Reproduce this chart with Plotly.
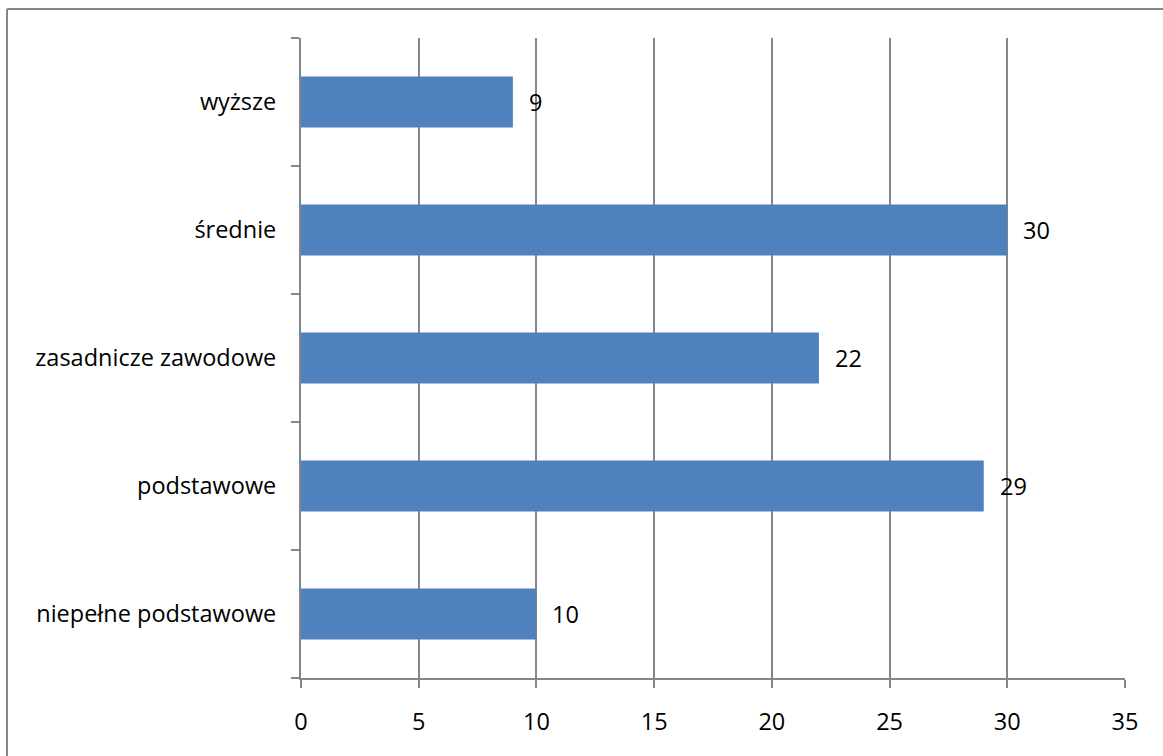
import plotly.graph_objects as go

categories = ["niepełne podstawowe", "podstawowe", "zasadnicze zawodowe", "średnie", "wyższe"]
values = [10, 29, 22, 30, 9]
x_ticks = [0, 5, 10, 15, 20, 25, 30, 35]

BAR_COLOR = "#4F81BD"
GRID = "#868686"
FONT = dict(family="Open Sans", size=23.5, color="#000000")

W, H = 1163, 756
ML, MR, MT, MB = 301, 38, 38, 78
PW, PH = W - ML - MR, H - MT - MB

fig = go.Figure()
fig.add_trace(go.Bar(
    x=values, y=categories, orientation="h",
    marker=dict(color=BAR_COLOR, line=dict(width=0)),
    width=0.4, hoverinfo="x+y",
))

for v, c in zip(values, categories):
    fig.add_annotation(x=v, y=c, text=str(v), showarrow=False,
                       xanchor="left", yanchor="middle", xshift=14,
                       font=FONT)

def px_x(p):
    return (p - ML) / PW

def px_y(p):
    return (H - MB - p) / PH

# outer chart-area frame (only top and left edges are visible in the picture)
fig.add_shape(type="line", xref="paper", yref="paper",
              x0=px_x(7), x1=px_x(1300), y0=px_y(9), y1=px_y(9),
              line=dict(color=GRID, width=2), layer="above")
fig.add_shape(type="line", xref="paper", yref="paper",
              x0=px_x(7), x1=px_x(7), y0=px_y(900), y1=px_y(9),
              line=dict(color=GRID, width=2), layer="above")

fig.update_layout(
    width=W, height=H,
    margin=dict(l=ML, r=MR, t=MT, b=MB, pad=0),
    paper_bgcolor="white", plot_bgcolor="white",
    font=FONT, showlegend=False, bargap=0.6,
    xaxis=dict(range=[0, 35], tickvals=x_ticks, ticktext=[str(t) for t in x_ticks],
               showgrid=True, gridcolor=GRID, gridwidth=2, zeroline=False,
               showline=True, linecolor=GRID, linewidth=2,
               ticks="outside", ticklen=8, tickcolor=GRID, tickwidth=2,
               ticklabelstandoff=14, tickfont=FONT, fixedrange=True),
    yaxis=dict(type="category", categoryorder="array", categoryarray=categories,
               showgrid=False, zeroline=False,
               showline=True, linecolor=GRID, linewidth=2,
               ticks="outside", ticklen=8, tickcolor=GRID, tickwidth=2,
               tickson="boundaries", ticklabelstandoff=18, tickfont=FONT,
               fixedrange=True),
)

fig.write_html(
    "out.html",
    config={"displayModeBar": False},
    post_script="document.body.style.margin='0';document.body.style.overflow='hidden';",
)
